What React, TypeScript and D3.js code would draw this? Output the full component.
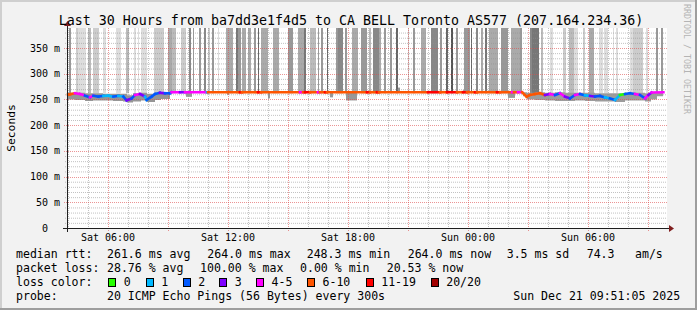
import React, { useEffect } from 'react';
import * as d3 from 'd3';

const W = 697;
const H = 310;

const titleText = 'Last 30 Hours from ba7dd3e1f4d5 to CA BELL Toronto AS577 (207.164.234.36)';
const windowStart = new Date(2025, 11, 20, 3, 57, 0);
const windowHours = 30;
const yMax = 388.9;

const yTicks = [0, 50, 100, 150, 200, 250, 300, 350];
const xTickLabels = ['Sat 06:00', 'Sat 12:00', 'Sat 18:00', 'Sun 00:00', 'Sun 06:00'];

const lossLabels = ['0', '1', '2', '3', '4-5', '6-10', '11-19', '20/20'];
const lossColors = ['#26ff00', '#00b8ff', '#0059ff', '#7e00ff', '#ff00ff', '#ff5500', '#ff0000', '#a10000'];

// tall "smoke" bars (hours since window start) and their gray level
const barStart = [0.1, 0.45, 0.55, 1.05, 1.3, 1.8, 2.45, 2.95, 3.35, 3.55, 3.7, 4.35, 5.05, 5.25, 5.7, 6.1, 6.3, 6.6, 6.85, 7.05, 7.25,
  7.55, 7.95, 8.45, 8.55, 8.75, 9.05, 9.35, 9.55, 9.7, 10.3, 11.05, 11.55, 11.85, 12.15, 12.55, 12.7, 13.0, 13.45, 13.55, 13.9, 14.25, 14.7,
  15.1, 15.3, 15.6, 15.85, 16.15, 16.45, 17.05, 17.3, 17.7, 18.2, 18.65, 18.95, 19.2, 19.45, 19.85, 20.2, 20.45, 20.7, 20.9, 21.1, 21.7, 22.2,
  22.45, 22.65, 23.15, 23.25, 23.7, 24.15, 24.8, 25.1, 25.35, 25.8, 26.1, 26.6, 26.85, 27.3, 27.45, 28.15, 28.3, 28.95, 29.45, 29.7];
const barEnd = [0.2, 0.55, 0.95, 1.2, 1.6, 1.95, 2.7, 3.1, 3.45, 3.6, 4.0, 4.85, 5.25, 5.45, 5.95, 6.2, 6.35, 6.7, 6.95, 7.15, 7.35,
  7.6, 8.3, 8.55, 8.7, 8.95, 9.2, 9.45, 9.6, 10.05, 10.6, 11.3, 11.85, 11.95, 12.45, 12.6, 12.8, 13.05, 13.55, 13.8, 14.0, 14.55, 15.0,
  15.2, 15.6, 15.7, 15.95, 16.25, 16.55, 17.1, 17.4, 17.95, 18.55, 18.75, 19.05, 19.3, 19.55, 20.15, 20.25, 20.55, 20.8, 21.0, 21.55, 22.05, 22.45,
  22.65, 22.75, 23.25, 23.6, 23.8, 24.3, 24.95, 25.35, 25.55, 25.9, 26.35, 26.8, 27.05, 27.35, 27.55, 28.3, 28.8, 29.05, 29.55, 29.8];
const barGray = ['#999', '#ccc', '#ddd', '#bbb', '#ccc', '#ddd', '#ddd', '#bbb', '#ddd', '#ddd', '#ddd', '#ccc', '#aaa', '#bbb', '#ccc', '#888', '#999', '#999', '#888', '#ccc', '#999',
  '#ddd', '#aaa', '#777', '#999', '#aaa', '#aaa', '#999', '#666', '#aaa', '#aaa', '#999', '#aaa', '#777', '#bbb', '#999', '#999', '#666', '#999', '#888', '#999', '#aaa', '#999',
  '#bbb', '#888', '#aaa', '#999', '#999', '#666', '#ccc', '#999', '#aaa', '#888', '#999', '#666', '#555', '#999', '#999', '#666', '#888', '#aaa', '#777', '#aaa', '#999', '#aaa',
  '#aaa', '#999', '#888', '#777', '#bbb', '#ddd', '#ccc', '#bbb', '#ddd', '#ccc', '#aaa', '#ddd', '#ddd', '#ddd', '#ddd', '#ddd', '#ccc', '#ddd', '#999', '#999'];

// median rtt (ms) with loss class index
const medHours = [0.05, 0.15, 0.4, 0.65, 0.9, 1.15, 1.32, 1.57, 1.82, 2.07, 2.32, 2.57, 2.82, 2.98, 3.23, 3.4, 3.65, 3.9, 3.98, 4.23, 4.4, 4.65, 4.9, 5.15,
  5.23, 5.65, 5.9, 7.0, 7.05, 8.65, 8.75, 9.55, 9.7, 11.65, 11.8, 11.9, 12.15, 12.55, 12.65, 12.9, 13.0, 15.0, 15.15, 15.5, 15.6, 18.05, 18.65, 19.0, 19.5,
  19.8, 20.0, 20.4, 20.5, 21.5, 21.65, 22.25, 22.35, 22.55, 22.75,
  22.98, 23.15, 23.4, 23.65, 23.9, 24.15, 24.4, 24.65, 24.9, 25.15, 25.4, 25.65, 25.9, 26.15, 26.4, 26.65, 26.9, 27.15, 27.4, 27.65, 27.9, 28.15, 28.4,
  28.65, 28.9, 29.07, 29.23, 29.82];
const medValues = [259.5, 260, 262, 260.6, 257.3, 254, 257.3, 255.4, 256.7, 257.3, 255.4, 256.7, 255.4, 248.3, 252, 258.6, 260.6, 255.4, 249, 255.4, 260.6, 263, 262, 262,
  264, 264, 264, 264, 264, 264, 264, 264, 264, 264, 264, 264, 264, 264, 264, 264, 264, 264, 264, 264, 264, 264, 264, 264, 264,
  264, 264, 264, 264, 264, 264, 264, 264, 264, 264,
  255.4, 258.6, 260.6, 262, 258.6, 260.6, 258.6, 262, 255.4, 252, 258.6, 260.6, 258, 256.7, 255.4, 256.7, 254, 252, 249, 258.6, 260.6, 262, 260.6,
  258.6, 252, 258.6, 263.5, 264];
const medLoss = [5, 5, 4, 4, 2, 4, 2, 2, 1, 1, 2, 1, 2, 3, 2, 4, 3, 1, 2, 2, 2, 3, 2, 2,
  4, 3, 4, 1, 5, 6, 5, 6, 5, 4, 5, 6, 5, 4, 5, 6, 5, 6, 5, 6, 5, 6, 5, 6, 5,
  6, 5, 6, 5, 6, 5, 4, 5, 4, 5,
  5, 5, 5, 5, 3, 4, 2, 4, 3, 2, 4, 2, 1, 3, 2, 2, 1, 2, 1, 0, 2, 2, 4,
  2, 4, 3, 4, 4];

// smoke band around the median
const smokeHours = [0.05, 0.4, 0.9, 1.3, 1.8, 2.3, 2.8, 3.0, 3.3, 3.7, 4.0, 4.4, 4.7, 5.15,
  22.8, 23.0, 23.4, 23.9, 24.4, 24.9, 25.4, 25.9, 26.4, 26.9, 27.4, 27.9, 28.4, 28.9, 29.2, 29.5, 29.8];
const smokeLo = [250, 249, 247, 248, 248, 247, 246, 244, 246, 248, 245, 249, 251, 252,
  256, 250, 249, 248, 247, 247, 248, 247, 246, 246, 245, 248, 248, 246, 250, 256, 260];
const smokeHi = [263, 263, 262, 262, 261, 261, 261, 258, 262, 263, 261, 263, 264, 264,
  264, 263, 264, 263, 264, 263, 263, 263, 262, 262, 262, 263, 263, 262, 264, 264, 264];
const smokeRun = [1, 1, 1, 1, 1, 1, 1, 1, 1, 1, 1, 1, 1, 1,
  3, 3, 3, 3, 3, 3, 3, 3, 3, 3, 3, 3, 3, 3, 3, 3, 3];

// isolated smoke spikes in the middle stretch
const spikeStart = [5.95, 8.0, 10.05, 13.15, 13.95, 16.55, 19.8, 22.05];
const spikeEnd = [6.25, 8.1, 10.15, 13.3, 14.5, 16.65, 19.85, 22.4];
const spikeLo = [255, 259, 252, 254, 248, 264, 264, 253];
const spikeHi = [264, 264, 264, 264, 264, 273, 268, 264];

const statRtt = ['261.6 ms avg', '264.0 ms max', '248.3 ms min', '264.0 ms now', '3.5 ms sd', '74.3', 'am/s'];
const statLoss = ['28.76 % avg', '100.00 % max', '0.00 % min', '20.53 % now'];
const probeText = '20 ICMP Echo Pings (56 Bytes) every 300s';
const stampText = 'Sun Dec 21 09:51:05 2025';

const FONT = '"DejaVu Sans Mono", monospace';

export default function App() {
  useEffect(() => {
    document.body.style.margin = '0';
  }, []);

  const t = (h: number) => new Date(windowStart.getTime() + h * 3600e3);
  const x = d3.scaleTime().domain([windowStart, t(windowHours)]).range([67, 667]);
  const y = d3.scaleLinear().domain([0, yMax]).range([228, 28]);

  const plotL = 67, plotR = 667, plotT = 28, plotB = 228;

  const hours = d3.timeHour.range(windowStart, t(windowHours));
  const minorV = hours.filter((d) => d.getHours() % 3 !== 0);
  const majorV = hours.filter((d) => d.getHours() % 3 === 0);
  const labelV = hours.filter((d) => d.getHours() % 6 === 0);
  const fmt = d3.timeFormat('%a %H:%M');

  const minorH = d3.range(10, 390, 10).filter((v) => v % 50 !== 0);
  const majorH = yTicks.filter((v) => v > 0);

  const smokeArea = (run: number) => {
    const idx = smokeHours.map((_, i) => i).filter((i) => smokeRun[i] === run);
    const gen = d3.area<number>()
      .x((i) => x(t(smokeHours[i])))
      .y0((i) => y(smokeLo[i]))
      .y1((i) => y(smokeHi[i]))
      .curve(d3.curveStepAfter);
    return gen(idx) || '';
  };

  const legendBoxX = [108.3, 145.7, 182.7, 219.3, 256, 307, 365.7, 430.7];
  const rttX = [107, 207.3, 306.7, 407.7, 506.7, 586.7, 635];
  const lossX = [107, 200, 300, 386.7];

  return (
    <div style={{ position: 'absolute', left: 0, top: 0 }}>
      <svg width={W} height={H} style={{ display: 'block' }} fontFamily={FONT}>
        <rect x={0} y={0} width={W} height={H} fill="#f2f2f2" />
        {/* shade border */}
        <rect x={0} y={0} width={W} height={2} fill="#cfcfcf" />
        <rect x={0} y={0} width={2} height={H} fill="#cfcfcf" />
        <rect x={0} y={H - 2} width={W} height={2} fill="#9e9e9e" />
        <rect x={W - 2} y={0} width={2} height={H} fill="#9e9e9e" />

        {/* canvas */}
        <rect x={plotL} y={plotT} width={plotR - plotL} height={plotB - plotT} fill="#ffffff" />

        {/* tall bars */}
        {barStart.map((s, i) => (
          <rect key={'b' + i} x={x(t(s))} y={plotT} width={Math.max(1, x(t(barEnd[i])) - x(t(s)))}
            height={y(262) - plotT} fill={barGray[i]} />
        ))}

        {/* smoke */}
        <path d={smokeArea(1)} fill="#969696" />
        <path d={smokeArea(3)} fill="#9c9c9c" />
        {spikeStart.map((s, i) => (
          <rect key={'s' + i} x={x(t(s))} y={y(spikeHi[i])} width={Math.max(1, x(t(spikeEnd[i])) - x(t(s)))}
            height={y(spikeLo[i]) - y(spikeHi[i])} fill="#999" />
        ))}

        {/* grid */}
        {minorH.map((v) => (
          <line key={'mh' + v} x1={plotL - 2} x2={plotR} y1={y(v) + 0.5} y2={y(v) + 0.5}
            stroke="rgba(143,143,143,0.55)" strokeDasharray="1,1" />
        ))}
        {minorV.map((d, i) => (
          <line key={'mv' + i} x1={x(d) + 0.5} x2={x(d) + 0.5} y1={plotT} y2={plotB + 2}
            stroke="rgba(143,143,143,0.55)" strokeDasharray="1,1" />
        ))}
        {majorH.map((v) => (
          <line key={'Mh' + v} x1={plotL - 3} x2={plotR} y1={Math.round(y(v)) + 0.5} y2={Math.round(y(v)) + 0.5}
            stroke="rgba(222,79,79,0.6)" strokeDasharray="1,1" />
        ))}
        {majorV.map((d, i) => (
          <line key={'Mv' + i} x1={Math.round(x(d)) + 0.5} x2={Math.round(x(d)) + 0.5} y1={plotT} y2={plotB + 3}
            stroke="rgba(222,79,79,0.6)" strokeDasharray="1,1" />
        ))}

        {/* median line */}
        {medHours.slice(0, -1).map((h, i) => (
          <line key={'m' + i} x1={x(t(h))} y1={y(medValues[i])} x2={x(t(medHours[i + 1]))} y2={y(medValues[i + 1])}
            stroke={lossColors[medLoss[i]]} strokeWidth={2.6} strokeLinecap="square" />
        ))}

        {/* axes */}
        <line x1={plotL - 4} x2={plotR + 2} y1={plotB + 0.5} y2={plotB + 0.5} stroke="#1f1f1f" />
        <line x1={plotL + 0.5} x2={plotL + 0.5} y1={plotB + 4} y2={plotT - 2} stroke="#1f1f1f" />
        <path d={`M${plotR + 2},${plotB - 3} L${plotR + 7},${plotB + 0.5} L${plotR + 2},${plotB + 4} Z`} fill="#801f1f" />
        <path d={`M${plotL - 3},${plotT - 2} L${plotL + 0.5},${plotT - 7} L${plotL + 4},${plotT - 2} Z`} fill="#801f1f" />

        {/* y labels */}
        {yTicks.map((v) => (
          <text key={'yl' + v} x={v === 0 ? 48 : 60} y={y(v)} dominantBaseline="central" textAnchor="end"
            fontSize={10} fill="#000">{v === 0 ? '0' : `${v} m`}</text>
        ))}
        {/* x labels */}
        {labelV.map((d, i) => (
          <text key={'xl' + i} x={x(d)} y={237.7} dominantBaseline="central" textAnchor="middle"
            fontSize={10} fill="#000">{xTickLabels[i] ?? fmt(d)}</text>
        ))}

        <text transform="translate(11,128) rotate(-90)" textAnchor="middle" dominantBaseline="central"
          fontSize={11.3} fill="#000">Seconds</text>

        <text x={351} y={20} textAnchor="middle" dominantBaseline="central" fontSize={13.3} fill="#000">{titleText}</text>

        <text transform="translate(686.5,4) rotate(90)" dominantBaseline="central" fontSize={8.3} fill="#b4b4b4">RRDTOOL / TOBI OETIKER</text>

        {/* legend */}
        <g fontSize={11.55} fill="#000" style={{ whiteSpace: 'pre' }}>
          <text x={16} y={254.3} dominantBaseline="central">median rtt:</text>
          {statRtt.map((s, i) => (
            <text key={'r' + i} x={rttX[i]} y={254.3} dominantBaseline="central">{s}</text>
          ))}
          <text x={16} y={268.3} dominantBaseline="central">packet loss:</text>
          {statLoss.map((s, i) => (
            <text key={'l' + i} x={lossX[i]} y={268.3} dominantBaseline="central">{s}</text>
          ))}
          <text x={16} y={282.3} dominantBaseline="central">loss color:</text>
          {lossLabels.map((s, i) => (
            <g key={'c' + i}>
              <rect x={Math.round(legendBoxX[i]) + 0.5} y={278.5} width={7} height={8} fill={lossColors[i]} stroke="#000" />
              <text x={legendBoxX[i] + 15.5} y={282.3} dominantBaseline="central">{s}</text>
            </g>
          ))}
          <text x={16} y={296} dominantBaseline="central">probe:</text>
          <text x={107} y={296} dominantBaseline="central">{probeText}</text>
          <text x={513.3} y={296} dominantBaseline="central">{stampText}</text>
        </g>
      </svg>
    </div>
  );
}
